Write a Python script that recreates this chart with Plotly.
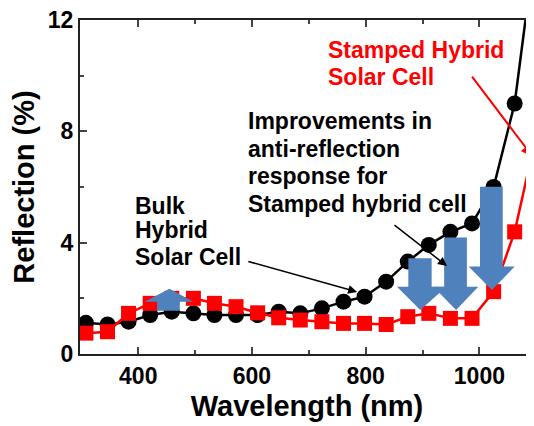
import plotly.graph_objects as go

# ---- data ----
wavelength = [308, 346, 383, 421, 459, 497, 534, 572, 610, 647, 685,
              723, 761, 798, 836, 874, 911, 949, 987, 1025, 1062, 1100]
bulk_reflection = [1.12, 1.06, 1.16, 1.40, 1.52, 1.46, 1.40, 1.40, 1.40, 1.52, 1.46,
                   1.64, 1.88, 2.06, 2.60, 3.32, 3.92, 4.39, 4.69, 6.00, 9.00, 15.0]
stamped_reflection = [0.75, 0.80, 1.46, 1.82, 2.00, 2.00, 1.82, 1.70, 1.48, 1.30, 1.22,
                      1.16, 1.10, 1.10, 1.06, 1.34, 1.46, 1.28, 1.28, 2.24, 4.39, 7.87]
x_tick_vals = [400, 600, 800, 1000]
x_minor_vals = [500, 700, 900]
y_tick_vals = [0, 4, 8, 12]
y_minor_vals = [2, 6, 10]

stamped_label = ["Stamped Hybrid", "Solar Cell"]
improve_label = ["Improvements in", "anti-reflection", "response for", "Stamped hybrid cell"]
bulk_label = ["Bulk", "Hybrid", "Solar Cell"]

FONT = "Liberation Sans, Arial, sans-serif"
BLUE = "#4F81BD"
RED = "#FF0000"

fig = go.Figure()
fig.add_trace(go.Scatter(
    x=wavelength, y=bulk_reflection, mode="lines+markers",
    line=dict(color="black", width=2.5),
    marker=dict(symbol="circle", size=16, color="black"),
    cliponaxis=True, showlegend=False, name="Bulk Hybrid Solar Cell"))
fig.add_trace(go.Scatter(
    x=wavelength, y=stamped_reflection, mode="lines+markers",
    line=dict(color=RED, width=2.5),
    marker=dict(symbol="square", size=15, color=RED),
    cliponaxis=True, showlegend=False, name="Stamped Hybrid Solar Cell"))
# invisible trace for right-side tick axis
fig.add_trace(go.Scatter(x=[wavelength[0]], y=[0], yaxis="y2", mode="markers",
                         marker=dict(opacity=0), showlegend=False, hoverinfo="skip"))

# ---- block arrows (data coordinates) ----
def block_arrow(x0, x1, hx0, hx1, tipx, ybot, ybase, ytip):
    return (f"M {x0},{ybot} L {x1},{ybot} L {x1},{ybase} L {hx1},{ybase} "
            f"L {tipx},{ytip} L {hx0},{ybase} L {x0},{ybase} Z")

arrows = [
    # shaft x0, x1, head x0, head x1, tip x, shaft end, head base, tip
    (433, 473, 411, 497, 455, 1.55, 1.88, 2.34),
    (875, 916, 855, 942, 896, 3.44, 2.42, 1.58),
    (938, 978, 919, 998, 959, 4.19, 2.42, 1.58),
    (1001, 1041, 981, 1062, 1022, 6.01, 3.14, 2.30),
]
for a in arrows:
    fig.add_shape(type="path", path=block_arrow(*a), xref="x", yref="y",
                  fillcolor=BLUE, line=dict(width=0), layer="above")

# ---- text labels (one annotation per line) ----
def add_lines(lines, x, ys, color):
    for txt, yv in zip(lines, ys):
        fig.add_annotation(x=x, y=yv, xref="x", yref="y", xanchor="left", yanchor="middle",
                           text=txt, showarrow=False, align="left",
                           font=dict(family=FONT, size=23, color=color, weight="bold"))

add_lines(stamped_label, 730, [10.92, 9.95], RED)
add_lines(improve_label, 589, [8.37, 7.38, 6.39, 5.39], "black")
add_lines(bulk_label, 390, [5.32, 4.46, 3.50], "black")

# ---- pointer arrows ----
for (hx, hy, tx, ty, col, w) in [
    (785, 2.23, 591, 3.34, "black", 1.5),
    (943, 3.16, 848, 4.67, "black", 1.5),
    (1094, 7.08, 985, 10.02, RED, 2),
]:
    fig.add_annotation(x=hx, y=hy, ax=tx, ay=ty, xref="x", yref="y", axref="x", ayref="y",
                       text="", showarrow=True, arrowhead=2, arrowsize=1.2,
                       arrowwidth=w, arrowcolor=col)

fig.update_layout(
    width=526, height=418,
    margin=dict(l=72, r=0, t=12, b=72),
    paper_bgcolor="white", plot_bgcolor="white",
    font=dict(family=FONT, color="black"),
    xaxis=dict(
        range=[297.6, 1096], tickvals=x_tick_vals, ticks="inside", ticklen=7, tickwidth=2,
        showline=True, linewidth=2, linecolor="#222", mirror="ticks",
        showgrid=False, zeroline=False,
        minor=dict(tickvals=x_minor_vals, ticks="inside", ticklen=4, tickwidth=2, showgrid=False),
        tickfont=dict(family=FONT, size=23, weight="bold"),
        title=dict(text="Wavelength (nm)", font=dict(family=FONT, size=29, weight="bold"),
                   standoff=8),
    ),
    yaxis=dict(
        range=[0, 12], tickvals=y_tick_vals, ticks="inside", ticklen=7, tickwidth=2,
        showline=True, linewidth=2, linecolor="#222", mirror=False,
        showgrid=False, zeroline=False, ticklabeloverflow="allow",
        minor=dict(tickvals=y_minor_vals, ticks="inside", ticklen=4, tickwidth=2, showgrid=False),
        tickfont=dict(family=FONT, size=23, weight="bold"),
        title=dict(text="Reflection (%)", font=dict(family=FONT, size=29, weight="bold")),
    ),
    yaxis2=dict(
        range=[0, 12], overlaying="y", side="right", tickvals=y_tick_vals,
        ticks="inside", ticklen=7, tickwidth=2, showticklabels=False,
        showline=False, showgrid=False, zeroline=False,
        minor=dict(tickvals=y_minor_vals, ticks="inside", ticklen=4, tickwidth=2, showgrid=False),
    ),
)

fig.write_html("out.html")
